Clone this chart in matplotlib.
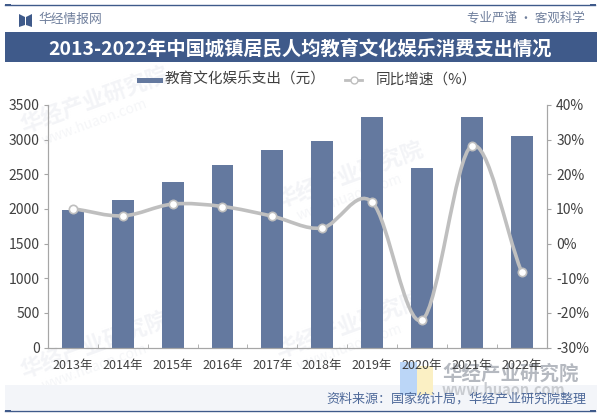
#!/usr/bin/env python3
"""2013-2022 urban per-capita education/culture/entertainment spending"""

import matplotlib
matplotlib.use('Agg')
import matplotlib.pyplot as plt
import numpy as np
from matplotlib.patches import PathPatch, Polygon, Rectangle
from matplotlib.path import Path

plt.rcParams['font.family'] = ['Noto Sans CJK SC', 'DejaVu Sans']

# Data
years = ['2013年', '2014年', '2015年', '2016年', '2017年', '2018年', '2019年', '2020年', '2021年', '2022年']
spending = [1988, 2127, 2383, 2638, 2847, 2974, 3328, 2592, 3322, 3050]
growth = [10.1, 8.0, 11.4, 10.7, 7.9, 4.5, 12.0, -22.1, 28.2, -8.2]
left_ticks = [0, 500, 1000, 1500, 2000, 2500, 3000, 3500]
right_ticks = [-30, -20, -10, 0, 10, 20, 30, 40]

W, H = 600, 416
BAR = '#64799F'
LINE = '#BFBFBF'
NAVY = '#3F5A8A'
TEXT = '#404040'

fig = plt.figure(figsize=(W / 100, H / 100), dpi=100, facecolor='white')

# Full-figure layer in pixel coordinates, y pointing down
bg = fig.add_axes([0, 0, 1, 1], zorder=0)
bg.set_xlim(0, W)
bg.set_ylim(H, 0)
bg.axis('off')

# Watermarks go underneath everything else
for wx, wy in [(95, 100), (350, 175), (95, 345), (350, 325)]:
    bg.text(wx, wy, '华经产业研究院', fontsize=16, color='#F3F4F7', rotation=20,
            ha='center', va='center', fontweight='bold', zorder=1)
    bg.text(wx, wy + 22, 'www.huaon.com', fontsize=10, color='#F5F6F8', rotation=20,
            ha='center', va='center', zorder=1)

bg.plot([5, 595], [4.5, 4.5], color=NAVY, lw=1, zorder=2)
bg.plot([5, 595], [411, 411], color=NAVY, lw=1, zorder=2)
for cap in (5, 590):
    bg.add_patch(Rectangle((cap, 3.5), 6, 2, color=NAVY, lw=0, zorder=2))
    bg.add_patch(Rectangle((cap, 410), 6, 2, color=NAVY, lw=0, zorder=2))
bg.add_patch(Rectangle((5, 32), 592, 30, color=NAVY, lw=0, zorder=2))
bg.add_patch(Rectangle((5, 385), 592, 25, color='#F3F5F9', lw=0, zorder=2))

# Logo mark top left, an open book
bg.add_patch(Polygon([(19, 14), (25, 17), (25, 25), (19, 27)], color=NAVY, lw=0, zorder=3))
bg.add_patch(Polygon([(32, 14), (26, 17), (26, 25), (32, 27)], color=NAVY, lw=0, zorder=3))
bg.text(38, 19.5, '华经情报网', fontsize=9.2, color='#6F7F9C', va='center', zorder=3)
bg.text(585, 18.5, '专业严谨 • 客观科学', fontsize=9, color='#6F7F9C', va='center', ha='right', zorder=3)
bg.text(300, 50, '2013-2022年中国城镇居民人均教育文化娱乐消费支出情况', fontsize=13.9,
        color='white', fontweight='bold', ha='center', va='center', zorder=3)

# Bottom right logo and source
bg.add_patch(Rectangle((400, 362), 17, 33, color='#BBD6F7', lw=0, zorder=3))
bg.add_patch(Rectangle((417, 366), 16, 29, color='#FBF0C4', lw=0, zorder=3))
bg.text(442, 374, '华经产业研究院', fontsize=14, color='#B5B9C0', va='center', fontweight='bold', zorder=3)
bg.text(442, 390, 'www.huaon.com', fontsize=10.5, color='#C9CCD1', va='center', fontweight='bold', zorder=3)
bg.text(586, 399, '资料来源：国家统计局，华经产业研究院整理', fontsize=9.4, color='#4F6A9A',
        ha='right', va='center', zorder=4)

# Main axes
ax = fig.add_axes([48 / W, 1 - 347.5 / H, 498.5 / W, 242.5 / H], zorder=1)
ax.patch.set_alpha(0)
x = np.arange(len(years))
bars = ax.bar(x, spending, width=0.44, color=BAR, label='教育文化娱乐支出（元）')
ax.set_xlim(-0.5, len(years) - 0.5)
ax.set_ylim(0, 3500)
ax.set_yticks(left_ticks)
ax.set_xticks(x)
ax.set_xticklabels(years)
ax.set_xticks(np.arange(-0.5, len(years)), minor=True)
ax.tick_params(axis='x', which='major', length=0, labelsize=9, labelcolor=TEXT, pad=8)
ax.tick_params(axis='x', which='minor', length=3, color='#A6A6A6', direction='in')
ax.tick_params(axis='y', length=3, color='#A6A6A6', labelsize=10, labelcolor=TEXT, pad=3)

ax2 = ax.twinx()
ax2.patch.set_alpha(0)
ax2.set_ylim(-30, 40)
ax2.set_yticks(right_ticks)
ax2.set_yticklabels([f'{t}%' for t in right_ticks])
ax2.tick_params(axis='y', length=3, color='#A6A6A6', labelsize=10, labelcolor=TEXT, pad=4)

for a in (ax, ax2):
    a.spines['top'].set_visible(False)
    for side in ('left', 'right', 'bottom'):
        a.spines[side].set_color('#A6A6A6')
        a.spines[side].set_linewidth(0.8)

# Smoothed line: cubic Bezier segments through the data points
g = np.array(growth, dtype=float)
slopes = np.gradient(g, x)
verts = [(x[0], g[0])]
codes = [Path.MOVETO]
for i in range(len(g) - 1):
    verts += [(x[i] + 1 / 3, g[i] + slopes[i] / 3),
              (x[i + 1] - 1 / 3, g[i + 1] - slopes[i + 1] / 3),
              (x[i + 1], g[i + 1])]
    codes += [Path.CURVE4] * 3
ax2.add_patch(PathPatch(Path(verts, codes), fc='none', ec=LINE, lw=2.6, capstyle='round'))
ax2.plot(x, g, ls='none', marker='o', ms=6, mfc='white', mec=LINE, mew=1.2, zorder=5)

# Legend drawn by hand to sit between title band and plot
bg.add_patch(Rectangle((137, 77.5), 26, 5.5, color=BAR, lw=0, zorder=3))
bg.text(165, 80, '教育文化娱乐支出（元）', fontsize=10.5, color=TEXT, va='center', zorder=3)
bg.plot([345, 362], [80, 80], color=LINE, lw=2, zorder=3)
bg.plot([353.5], [80], marker='o', ms=5, mfc='white', mec=LINE, mew=1, zorder=4)
bg.text(376, 80, '同比增速（%）', fontsize=10.5, color=TEXT, va='center', zorder=3)

fig.savefig('out.png', dpi=100, facecolor='white')
plt.close()
print("Saved: out.png")
